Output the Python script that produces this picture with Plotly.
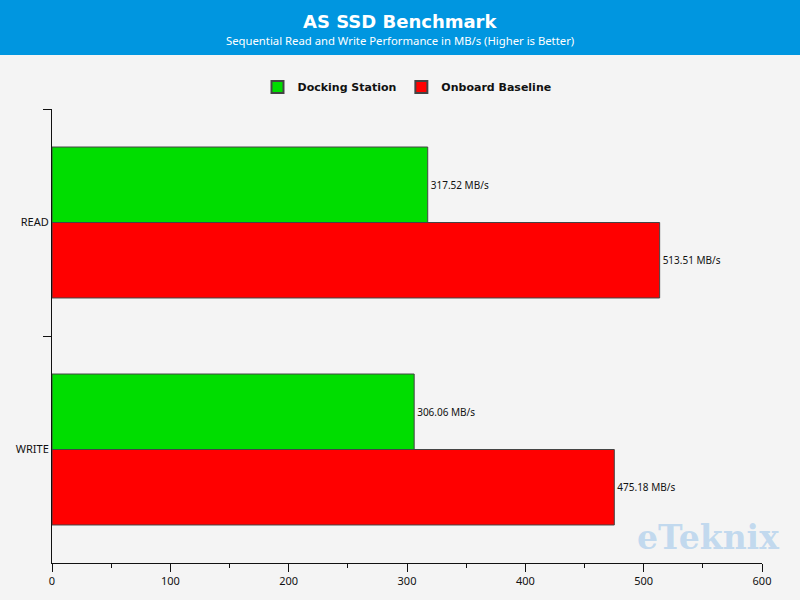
import plotly.graph_objects as go

categories = ["READ", "WRITE"]
docking = [317.52, 306.06]
onboard = [513.51, 475.18]
series_names = ["Docking Station", "Onboard Baseline"]
x_ticks = [0, 100, 200, 300, 400, 500, 600]

W, H = 800, 600
L, R, T, B = 52, 38, 109, 37
pw, ph = W - L - R, H - T - B

def px_x(p):
    return (p - L) / pw

def px_y(p):
    return (H - B - p) / ph

fig = go.Figure()
for name, vals, col in [(series_names[0], docking, "#00DD00"), (series_names[1], onboard, "#FF0000")]:
    fig.add_trace(go.Bar(
        y=categories, x=vals, name=name, orientation="h",
        marker=dict(color=col, line=dict(color="#444444", width=1)),
        text=[f"{v:.2f} MB/s" for v in vals], textposition="outside",
        textfont=dict(family="Noto Sans, DejaVu Sans", size=10, color="#111111"),
        cliponaxis=False,
    ))

fig.update_layout(
    width=W, height=H,
    margin=dict(l=L, r=R, t=T, b=B, autoexpand=False),
    paper_bgcolor="#F4F4F4", plot_bgcolor="#F4F4F4",
    barmode="group", bargap=0.335, bargroupgap=0,
    font=dict(family="Noto Sans, DejaVu Sans", size=11, color="#111111"),
    showlegend=True,
    legend=dict(orientation="h", x=0.5, xanchor="center", y=1 - 87 / H, yref="container",
                yanchor="middle", font=dict(family="DejaVu Sans", size=11, color="#111111", weight="bold"),
                itemsizing="constant", itemwidth=30, tracegroupgap=0, bgcolor="rgba(0,0,0,0)"),
    xaxis=dict(range=[0, 600], tickvals=x_ticks, showgrid=False, zeroline=False,
               showline=True, linecolor="#111111", linewidth=1,
               ticks="outside", ticklen=8, tickcolor="#111111",
               minor=dict(dtick=50, ticks="outside", ticklen=4, tickcolor="#111111"),
               tickfont=dict(size=11)),
    yaxis=dict(autorange="reversed", showgrid=False, showline=True, linecolor="#111111",
               linewidth=1, ticks="outside", ticklen=8, tickcolor="#111111",
               tickson="boundaries", tickfont=dict(size=11)),
    shapes=[dict(type="rect", xref="paper", yref="paper",
                 x0=px_x(0), x1=px_x(W), y0=px_y(55), y1=px_y(0),
                 fillcolor="#0096E0", line=dict(width=0), layer="below")],
    annotations=[
        dict(text="<b>AS SSD Benchmark</b>", xref="paper", yref="paper", x=px_x(400), y=px_y(22),
             showarrow=False, xanchor="center", yanchor="middle",
             font=dict(family="DejaVu Sans", size=18, color="white")),
        dict(text="Sequential Read and Write Performance in MB/s (Higher is Better)", xref="paper",
             yref="paper", x=px_x(400), y=px_y(40), showarrow=False, xanchor="center",
             yanchor="middle", font=dict(family="Noto Sans", size=11.3, color="white")),
        dict(text="<b>eTeknix</b>", xref="paper", yref="paper", x=px_x(708), y=px_y(537),
             showarrow=False, xanchor="center", yanchor="middle",
             font=dict(family="DejaVu Serif", size=33, color="rgba(160,200,235,0.6)")),
    ],
)

fig.write_html("out.html")
